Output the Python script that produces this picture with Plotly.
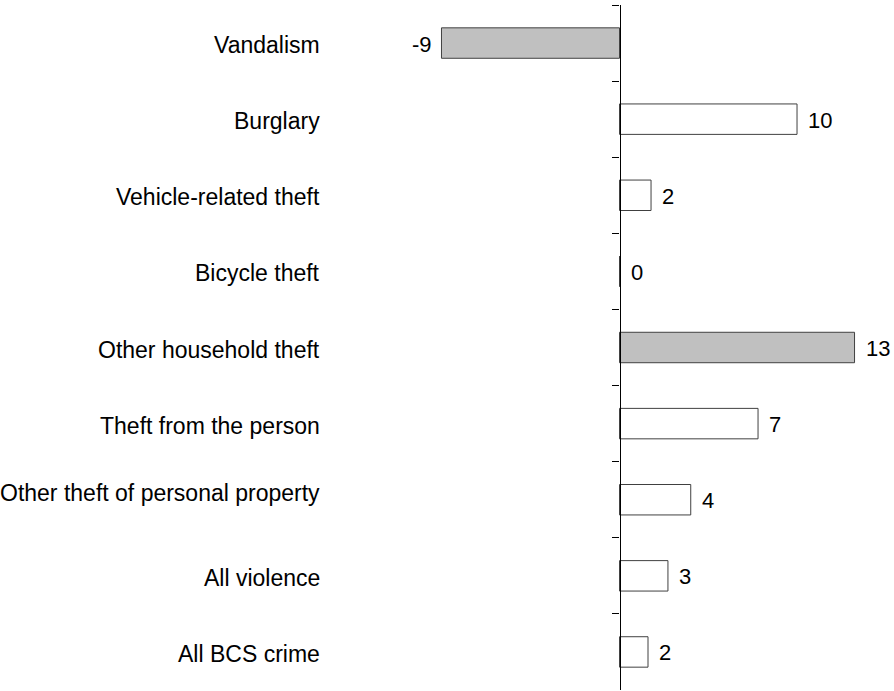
import plotly.graph_objects as go

categories = ["Vandalism", "Burglary", "Vehicle-related theft", "Bicycle theft",
              "Other household theft", "Theft from the person",
              "Other theft of personal property", "All violence", "All BCS crime"]
values = [-10.0, 9.97, 1.77, 0.0, 13.2, 7.78, 4.0, 2.72, 1.6]
value_labels = ["-9", "10", "2", "0", "13", "7", "4", "3", "2"]
significant = [True, False, False, False, True, False, False, False, False]

FONT = "Liberation Sans, Arial, sans-serif"
fill = ["#c0c0c0" if s else "#ffffff" for s in significant]

fig = go.Figure()
fig.add_trace(go.Bar(
    y=categories, x=values, orientation="h",
    marker=dict(color=fill, line=dict(color="#404040", width=1)),
    width=0.4, showlegend=False, hoverinfo="skip",
))

ann = []
for c, v, t in zip(categories, values, value_labels):
    ann.append(dict(x=v, y=c, xref="x", yref="y", text=t, showarrow=False,
                    xanchor="right" if v < 0 else "left",
                    xshift=-7 if v < 0 else 9, yshift=-1,
                    font=dict(family=FONT, size=22, color="#000")))
    ann.append(dict(x=-0.0333, y=c, xref="paper", yref="y", text=c, showarrow=False,
                    xanchor="right", yshift=7 if c == "Other theft of personal property" else -2,
                    font=dict(family=FONT, size=23, color="#000")))

fig.update_layout(
    width=894, height=691,
    margin=dict(l=340, r=14, t=5, b=1),
    paper_bgcolor="white", plot_bgcolor="white",
    bargap=0.6,
    xaxis=dict(range=[-15.70, 14.63], visible=False, showgrid=False, zeroline=False),
    yaxis=dict(categoryorder="array", categoryarray=categories, autorange="reversed",
               showticklabels=False, showgrid=False, zeroline=False,
               showline=True, linecolor="#000", linewidth=1.3,
               ticks="outside", ticklen=7, tickcolor="#000", tickwidth=1.3,
               tickson="boundaries",
               anchor="free", position=279.5 / 540),
    annotations=ann,
)

fig.write_html("out.html", config={"displayModeBar": False},
               post_script="document.body.style.margin='0';")
